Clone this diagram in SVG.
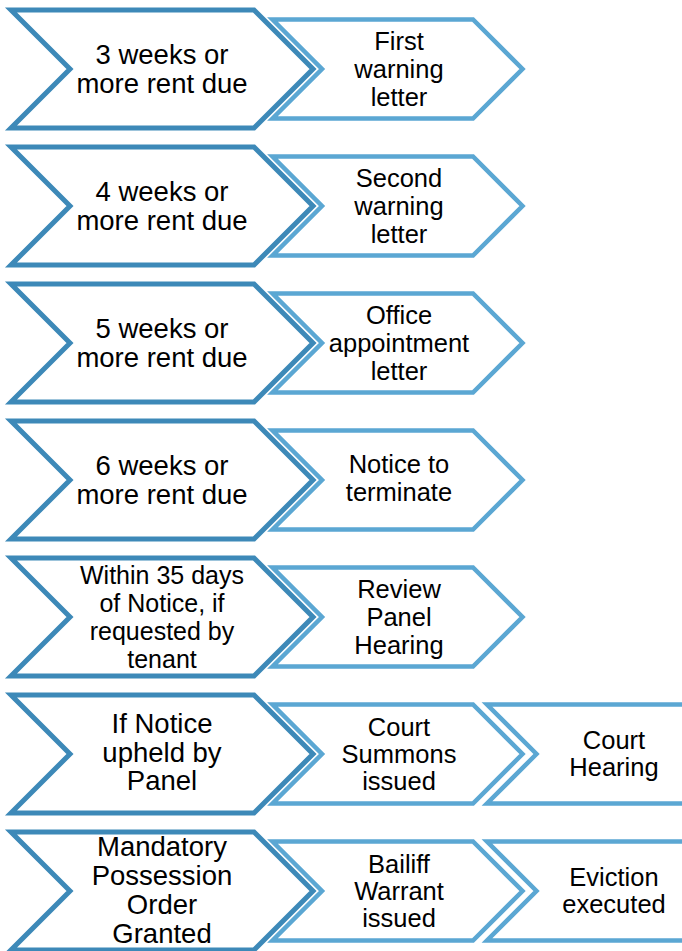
<svg xmlns="http://www.w3.org/2000/svg" width="682" height="951" viewBox="0 0 682 951">
<style>
.big{fill:#fff;stroke:#3d89b8;stroke-width:5;stroke-linejoin:miter}
.sm{fill:#fff;stroke:#5ba7d3;stroke-width:4.5;stroke-linejoin:miter}
text{font-family:"Liberation Sans",Arial,sans-serif;fill:#000;text-anchor:middle}
.tb{font-size:27.5px}
.tb5{font-size:25px}
.ts{font-size:25.5px}
</style>
<rect width="682" height="951" fill="#fff"/>
<g id="connectors"/>
<!-- Row 1 -->
<g id="r1a"><polygon class="big" points="11,10 254,10 313,69 254,128 11,128 70,69"/>
<text class="tb" x="162" y="64">3 weeks or</text><text class="tb" x="162" y="93">more rent due</text></g>
<g id="r1b"><polygon class="sm" points="272.5,19.5 473,19.5 522.5,69 473,118.5 272.5,118.5 322,69"/>
<text class="ts" x="399" y="50">First</text><text class="ts" x="399" y="78">warning</text><text class="ts" x="399" y="106">letter</text></g>
<!-- Row 2 -->
<g id="r2a"><polygon class="big" points="11,147 254,147 313,206 254,265 11,265 70,206"/>
<text class="tb" x="162" y="201">4 weeks or</text><text class="tb" x="162" y="230">more rent due</text></g>
<g id="r2b"><polygon class="sm" points="272.5,156.5 473,156.5 522.5,206 473,255.5 272.5,255.5 322,206"/>
<text class="ts" x="399" y="187">Second</text><text class="ts" x="399" y="215">warning</text><text class="ts" x="399" y="243">letter</text></g>
<!-- Row 3 -->
<g id="r3a"><polygon class="big" points="11,284 254,284 313,343 254,402 11,402 70,343"/>
<text class="tb" x="162" y="338">5 weeks or</text><text class="tb" x="162" y="367">more rent due</text></g>
<g id="r3b"><polygon class="sm" points="272.5,293.5 473,293.5 522.5,343 473,392.5 272.5,392.5 322,343"/>
<text class="ts" x="399" y="324">Office</text><text class="ts" x="399" y="352">appointment</text><text class="ts" x="399" y="380">letter</text></g>
<!-- Row 4 -->
<g id="r4a"><polygon class="big" points="11,421 254,421 313,480 254,539 11,539 70,480"/>
<text class="tb" x="162" y="475">6 weeks or</text><text class="tb" x="162" y="504">more rent due</text></g>
<g id="r4b"><polygon class="sm" points="272.5,430.5 473,430.5 522.5,480 473,529.5 272.5,529.5 322,480"/>
<text class="ts" x="399" y="473">Notice to</text><text class="ts" x="399" y="501">terminate</text></g>
<!-- Row 5 -->
<g id="r5a"><polygon class="big" points="11,558 254,558 313,617 254,676 11,676 70,617"/>
<text class="tb5" x="162" y="584">Within 35 days</text><text class="tb5" x="162" y="612">of Notice, if</text><text class="tb5" x="162" y="640">requested by</text><text class="tb5" x="162" y="668">tenant</text></g>
<g id="r5b"><polygon class="sm" points="272.5,567.5 473,567.5 522.5,617 473,666.5 272.5,666.5 322,617"/>
<text class="ts" x="399" y="598">Review</text><text class="ts" x="399" y="626">Panel</text><text class="ts" x="399" y="654">Hearing</text></g>
<!-- Row 6 -->
<g id="r6a"><polygon class="big" points="11,695 254,695 313,754 254,813 11,813 70,754"/>
<text class="tb" x="162" y="733">If Notice</text><text class="tb" x="162" y="762">upheld by</text><text class="tb" x="162" y="790">Panel</text></g>
<g id="r6b"><polygon class="sm" points="272.5,704.5 473,704.5 522.5,754 473,803.5 272.5,803.5 322,754"/>
<text class="ts" x="399" y="736">Court</text><text class="ts" x="399" y="763">Summons</text><text class="ts" x="399" y="790">issued</text></g>
<g id="r6c"><polygon class="sm" points="487,704.5 760,704.5 809.5,754 760,803.5 487,803.5 536.5,754"/>
<text class="ts" x="614" y="749">Court</text><text class="ts" x="614" y="776">Hearing</text></g>
<!-- Row 7 -->
<g id="r7a"><polygon class="big" points="11,832 254,832 313,891 254,950 11,950 70,891"/>
<text class="tb" x="162" y="856">Mandatory</text><text class="tb" x="162" y="885">Possession</text><text class="tb" x="162" y="914">Order</text><text class="tb" x="162" y="943">Granted</text></g>
<g id="r7b"><polygon class="sm" points="272.5,841.5 473,841.5 522.5,891 473,940.5 272.5,940.5 322,891"/>
<text class="ts" x="399" y="873">Bailiff</text><text class="ts" x="399" y="900">Warrant</text><text class="ts" x="399" y="927">issued</text></g>
<g id="r7c"><polygon class="sm" points="487,841.5 760,841.5 809.5,891 760,940.5 487,940.5 536.5,891"/>
<text class="ts" x="614" y="886">Eviction</text><text class="ts" x="614" y="913">executed</text></g>
</svg>
